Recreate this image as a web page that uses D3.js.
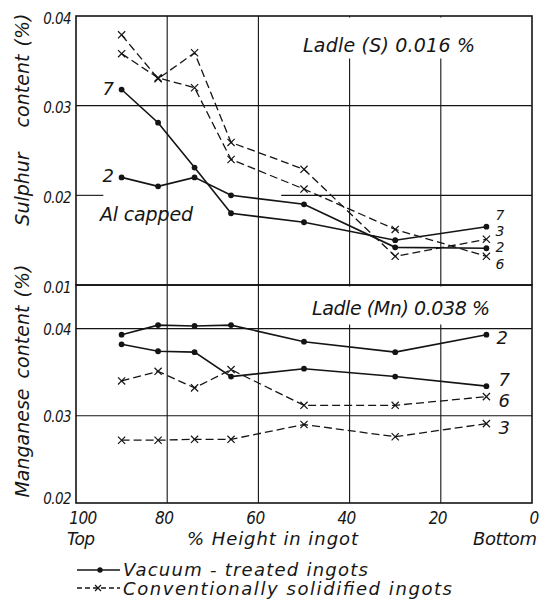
<!DOCTYPE html>
<html><head><meta charset="utf-8">
<script src="https://cdn.jsdelivr.net/npm/d3@7/dist/d3.min.js"></script>
<style>
html,body{margin:0;padding:0;background:#fff;}
text{font-family:"DejaVu Sans","Liberation Sans",sans-serif;font-style:italic;fill:#161616;}
text.num{font-family:"DejaVu Sans Condensed","DejaVu Sans",sans-serif;}
</style></head>
<body><svg id="c" width="540" height="601"></svg>
<script>
// ---- data ----
const heightPct = [90, 82, 74, 66, 50, 30, 10];
const xTicks = [100, 80, 60, 40, 20, 0];
const xTickLabels = ["100", "80", "60", "40", "20", "0"];
const sTicks = [0.04, 0.03, 0.02, 0.01];
const sTickLabels = ["0.04", "0.03", "0.02", "0.01"];
const mTicks = [0.04, 0.03, 0.02];
const mTickLabels = ["0.04", "0.03", "0.02"];

const sulphurVac7  = [0.0318, 0.0281, 0.0231, 0.0180, 0.0170, 0.0150, 0.0165];
const sulphurVac2  = [0.0220, 0.0210, 0.0220, 0.0200, 0.0190, 0.0142, 0.0141];
const sulphurConv3 = [0.0379, 0.0330, 0.0359, 0.0259, 0.0229, 0.0132, 0.0151];
const sulphurConv6 = [0.0358, 0.0331, 0.0320, 0.0240, 0.0207, 0.0162, 0.0132];

const mnVac2  = [0.0393, 0.0404, 0.0403, 0.0404, 0.0385, 0.0373, 0.0393];
const mnVac7  = [0.0382, 0.0374, 0.0373, 0.0345, 0.0354, 0.0345, 0.0334];
const mnConv6 = [0.0340, 0.0351, 0.0332, 0.0353, 0.0312, 0.0312, 0.0322];
const mnConv3 = [0.0272, 0.0272, 0.0273, 0.0273, 0.0290, 0.0276, 0.0291];

// ---- layout ----
const svg = d3.select("#c");
const ink = "#141414";
const x = d3.scaleLinear().domain([100, 0]).range([76, 532]);
const yS = d3.scaleLinear().domain([0.01, 0.04]).range([285, 16]);
const yM = d3.scaleLinear().domain([0.02, 0.045]).range([503, 285]);

const g = svg.append("g");

// gridlines
function vgrid(ys, top, bottom) {
  [80, 60, 40, 20].forEach(v => {
    g.append("line").attr("x1", x(v)).attr("x2", x(v))
      .attr("y1", ys(top)).attr("y2", ys(bottom))
      .attr("stroke", ink).attr("stroke-width", 1.1);
  });
}
vgrid(yS, 0.04, 0.01);
vgrid(yM, 0.045, 0.02);
[0.03].forEach(v => g.append("line").attr("x1", x(100)).attr("x2", x(0))
  .attr("y1", yS(v)).attr("y2", yS(v)).attr("stroke", ink).attr("stroke-width", 1.1));
// 0.02 sulphur gridline broken behind the "Al capped" label
[[100, 94], [55, 0]].forEach(([a, b]) => g.append("line").attr("x1", x(a)).attr("x2", x(b))
  .attr("y1", yS(0.02)).attr("y2", yS(0.02)).attr("stroke", ink).attr("stroke-width", 1.1));
[0.04, 0.03].forEach(v => g.append("line").attr("x1", x(100)).attr("x2", x(0))
  .attr("y1", yM(v)).attr("y2", yM(v)).attr("stroke", ink).attr("stroke-width", 1.1));

// white boxes behind Ladle notes
g.append("rect").attr("x", x(44)).attr("y", yS(0.04) + 1.5).attr("width", x(2) - x(44))
  .attr("height", 41).attr("fill", "#fff");
g.append("rect").attr("x", x(44)).attr("y", yM(0.045) + 1.5).attr("width", x(2) - x(44))
  .attr("height", 38).attr("fill", "#fff");

// frames
g.append("rect").attr("x", x(100)).attr("y", yS(0.04)).attr("width", x(0) - x(100))
  .attr("height", yS(0.01) - yS(0.04)).attr("fill", "none").attr("stroke", ink).attr("stroke-width", 1.6);
g.append("rect").attr("x", x(100)).attr("y", yM(0.045)).attr("width", x(0) - x(100))
  .attr("height", yM(0.02) - yM(0.045)).attr("fill", "none").attr("stroke", ink).attr("stroke-width", 1.6);

// series drawing
function series(vals, ys, dashed) {
  const pts = heightPct.map((h, i) => [x(h), ys(vals[i])]);
  g.append("path").attr("d", d3.line()(pts)).attr("fill", "none")
    .attr("stroke", ink).attr("stroke-width", dashed ? 1.3 : 1.6)
    .attr("stroke-dasharray", dashed ? "8,4" : null);
  pts.forEach(([px, py]) => {
    if (dashed) {
      const s = 3.6;
      g.append("path").attr("d", `M${px - s},${py - s}L${px + s},${py + s}M${px - s},${py + s}L${px + s},${py - s}`)
        .attr("stroke", ink).attr("stroke-width", 1.2);
    } else {
      g.append("circle").attr("cx", px).attr("cy", py).attr("r", 2.9).attr("fill", ink);
    }
  });
}
series(sulphurConv3, yS, true);
series(sulphurConv6, yS, true);
series(sulphurVac7, yS, false);
series(sulphurVac2, yS, false);
series(mnConv6, yM, true);
series(mnConv3, yM, true);
series(mnVac2, yM, false);
series(mnVac7, yM, false);

// tick labels
sTicks.forEach((v, i) => g.append("text").attr("class", "num").attr("x", x(100) - 5).attr("y", yS(v) + 3)
  .attr("text-anchor", "end").attr("dominant-baseline", "middle").attr("font-size", 15)
  .attr("letter-spacing", -0.6).text(sTickLabels[i]));
mTicks.forEach((v, i) => g.append("text").attr("class", "num").attr("x", x(100) - 5).attr("y", yM(v) + (v === 0.02 ? -4 : 2))
  .attr("text-anchor", "end").attr("dominant-baseline", "middle").attr("font-size", 15)
  .attr("letter-spacing", -0.6).text(mTickLabels[i]));
xTicks.forEach((v, i) => g.append("text").attr("class", "num").attr("x", x(v) + (v === 100 ? 7 : v === 0 ? 2 : -3)).attr("y", 524)
  .attr("text-anchor", "middle").attr("font-size", 17).attr("letter-spacing", -0.6).text(xTickLabels[i]));
g.append("text").attr("x", 67).attr("y", 545).attr("font-size", 17).attr("textLength", 28).text("Top");
g.append("text").attr("x", 187).attr("y", 545).attr("font-size", 18).attr("textLength", 171).text("% Height in ingot");
g.append("text").attr("x", 473).attr("y", 545).attr("font-size", 18).attr("textLength", 64).text("Bottom");

// axis titles (one text per word, spaced like the original)
const titleWord = (t, cy) => g.append("text").attr("transform", `translate(29,${cy}) rotate(-90)`)
  .attr("text-anchor", "middle").attr("font-size", 19).attr("fill", "#2a2a2a").text(t);
titleWord("(%)", 30); titleWord("content", 91); titleWord("Sulphur", 189);
titleWord("(%)", 281); titleWord("content", 342); titleWord("Manganese", 443);

// notes
g.append("text").attr("x", 303).attr("y", 52).attr("font-size", 19).attr("textLength", 172).text("Ladle (S) 0.016 %");
g.append("text").attr("x", 312).attr("y", 315).attr("font-size", 19).attr("textLength", 178).text("Ladle (Mn) 0.038 %");
g.append("text").attr("x", 100).attr("y", 221).attr("font-size", 19).attr("textLength", 93).text("Al capped");

// series labels
const lab = (t, px, py, fs) => g.append("text").attr("x", px).attr("y", py).attr("dominant-baseline", "middle")
  .attr("font-size", fs).text(t);
lab("7", x(90) - 19, yS(sulphurVac7[0]), 18);
lab("2", x(90) - 19, yS(sulphurVac2[0]), 18);
lab("7", x(10) + 9, yS(sulphurVac7[6]) - 11, 14);
lab("3", x(10) + 9, yS(sulphurConv3[6]) - 7, 14);
lab("2", x(10) + 9, yS(sulphurVac2[6]) + 0, 14);
lab("6", x(10) + 9, yS(sulphurConv6[6]) + 9, 14);
lab("2", x(10) + 10, yM(mnVac2[6]) + 4, 18);
lab("7", x(10) + 12, yM(mnVac7[6]) - 5, 18);
lab("6", x(10) + 12, yM(mnConv6[6]) + 5, 18);
lab("3", x(10) + 12, yM(mnConv3[6]) + 5, 18);

// legend
const lg = g.append("g");
lg.append("line").attr("x1", 77).attr("x2", 120).attr("y1", 570).attr("y2", 570).attr("stroke", ink).attr("stroke-width", 1.5);
lg.append("circle").attr("cx", 100).attr("cy", 570).attr("r", 2.7).attr("fill", ink);
lg.append("text").attr("x", 123).attr("y", 576).attr("font-size", 18).attr("textLength", 245).text("Vacuum - treated  ingots");
lg.append("line").attr("x1", 77).attr("x2", 120).attr("y1", 588).attr("y2", 588).attr("stroke", ink)
  .attr("stroke-width", 1.3).attr("stroke-dasharray", "5,3");
lg.append("path").attr("d", "M95,585L101,591M95,591L101,585").attr("stroke", ink).attr("stroke-width", 1.2).attr("fill", "none");
lg.append("text").attr("x", 123).attr("y", 595).attr("font-size", 18).attr("textLength", 329).text("Conventionally  solidified  ingots");
</script></body></html>
